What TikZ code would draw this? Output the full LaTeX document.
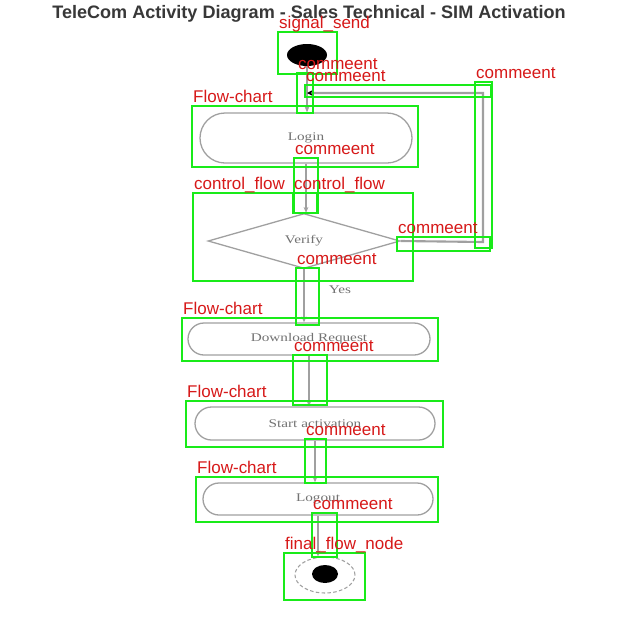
\documentclass[tikz,border=0pt]{standalone}
\usepackage{fontspec}
\setmainfont{Liberation Serif}
\newfontfamily\labfont{Liberation Sans}
\newfontfamily\ttlfont{Liberation Sans}
\usetikzlibrary{shapes.geometric,shapes.misc,arrows.meta,calc}
\definecolor{annogreen}{RGB}{25,235,25}
\definecolor{annored}{RGB}{215,25,25}
\definecolor{linegray}{RGB}{160,160,160}
\definecolor{txtgray}{RGB}{115,115,115}
\newcommand\widetext[1]{\scalebox{1.3}[1]{#1}}
\newcommand\annbox[6]{\draw[gbox] (#1,#2) rectangle (#3,#4); \node[rlab] (#6) at (#1+1,#2-4) {#5};}
\tikzset{
  gbox/.style={draw=annogreen, line width=2.4pt},
  rlab/.style={text=annored, font=\labfont\fontsize{14.5}{16}\selectfont, anchor=base west, inner sep=0pt},
  act/.style={rounded rectangle, draw=linegray, line width=1.1pt, text=txtgray, font=\fontsize{10}{12}\selectfont, inner sep=0pt},
  flow/.style={draw=linegray, line width=1.8pt, -{Stealth[length=5pt,width=4pt]}},
  loopflow/.style={draw=linegray, line width=1.8pt, -{Stealth[length=5pt,width=5pt,color=black]}}
}
\begin{document}
\begin{tikzpicture}[x=0.3mm,y=-0.3mm]
\useasboundingbox (0,0) rectangle (640,640);
\fill[white] (0,0) rectangle (640,640);
\node[font=\ttlfont\bfseries, text=black!78, inner sep=0] (title) at (309,14) {\resizebox{154mm}{!}{TeleCom Activity Diagram - Sales Technical - SIM Activation}};
% activity nodes
\node[fill=black, ellipse, minimum width=12mm, minimum height=6.6mm, inner sep=0] (start) at (307,55) {};
\node[act, minimum width=63.6mm, minimum height=15mm] (login) at (306,138) {\widetext{Login}};
\node[diamond, draw=linegray, line width=1.1pt, minimum width=57.6mm, minimum height=16.5mm, inner sep=0, text=txtgray, font=\fontsize{10}{12}\selectfont] (verify) at (304,241) {\widetext{Verify}};
\node[act, minimum width=72.6mm, minimum height=9.6mm] (download) at (309,339) {\widetext{Download Request}};
\node[act, minimum width=72mm, minimum height=9.9mm] (status) at (315,423.5) {\widetext{Start activation}};
\node[act, minimum width=69mm, minimum height=9.6mm] (logout) at (318,499) {\widetext{Logout}};
\node[ellipse, draw=linegray, densely dashed, line width=0.9pt, minimum width=18mm, minimum height=10.8mm] (final) at (325,575) {};
\node[ellipse, fill=black, minimum width=7.8mm, minimum height=5.4mm, inner sep=0] (finaldot) at (325,574) {};
% connectors
\coordinate (j) at (307,93);
\coordinate (c1) at (483,242);
\coordinate (c2) at (483,93);
\draw[flow] (start.south) -- (start.south |- login.north);
\draw[flow] (login.south) -- (login.south |- verify.north);
\draw[flow] (verify.south) -- (verify.south |- download.north);
\node[text=txtgray, font=\fontsize{10}{12}\selectfont] (yes) at (340,290) {\widetext{Yes}};
\draw[flow] (download.south) -- (download.south |- status.north);
\draw[flow] (status.south) -- (status.south |- logout.north);
\draw[flow] (logout.south) -- (logout.south |- final.north);
\draw[loopflow] (verify.east) -- (c1) -- (c2) -- (j);
% annotation overlay
\annbox{278}{32}{337}{74}{signal\_send}{a1}
\annbox{297}{73}{313}{113}{commeent}{a2}
\annbox{305}{85}{491}{97}{commeent}{a3}
\annbox{475}{82}{492}{248}{commeent}{a4}
\annbox{192}{106}{418}{167}{Flow-chart}{a5}
\annbox{294}{158}{318}{213}{commeent}{a6}
\annbox{193}{193}{413}{281}{control\_flow}{a7}
\annbox{293}{193}{317}{213}{control\_flow}{a8}
\annbox{397}{237}{490}{251}{commeent}{a9}
\annbox{296}{268}{319}{325}{commeent}{a10}
\annbox{182}{318}{438}{361}{Flow-chart}{a11}
\annbox{293}{355}{327}{405}{commeent}{a12}
\annbox{186}{401}{443}{447}{Flow-chart}{a13}
\annbox{305}{439}{326}{483}{commeent}{a14}
\annbox{196}{477}{438}{522}{Flow-chart}{a15}
\annbox{312}{513}{337}{557}{commeent}{a16}
\annbox{284}{553}{365}{600}{final\_flow\_node}{a17}
\end{tikzpicture}
\end{document}
